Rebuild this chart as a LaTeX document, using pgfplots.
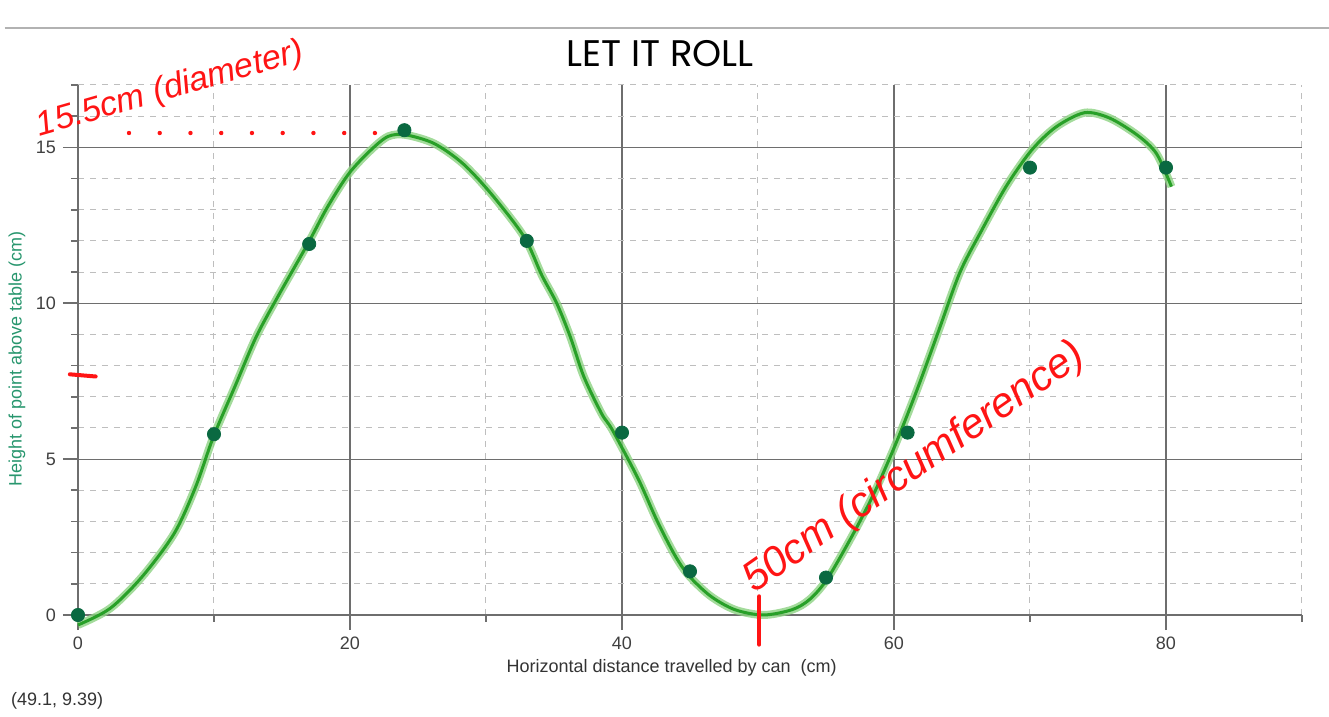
\documentclass[border=0pt]{standalone}
\usepackage{pgfplots}
\pgfplotsset{compat=1.18}
\usepackage{fontspec}
\setmainfont{Liberation Sans}
\newfontfamily\titlefont{Poppins}
\definecolor{axisgray}{RGB}{110,110,110}
\definecolor{gridgray}{RGB}{190,190,190}
\definecolor{dotgreen}{RGB}{10,105,65}
\definecolor{labgreen}{RGB}{40,150,110}
\definecolor{penred}{RGB}{255,20,20}
\definecolor{pengreen}{RGB}{40,160,40}
\definecolor{halogreen}{RGB}{140,210,130}

% hand-drawn curve
\pgfplotstableread{
x y
0 -0.32
2.36 0.21
4.72 1.23
7.08 2.62
8.65 4.11
9.96 5.72
11.53 7.32
13.1 8.92
14.68 10.2
16.9 11.91
18.35 13.09
19.92 14.16
21.5 14.9
22.8 15.35
24.1 15.4
26.2 15.12
28.3 14.48
30.4 13.5
32.8 12.13
34.1 10.9
35.2 10.0
36.2 8.92
37.2 7.64
38.5 6.46
39.3 5.93
41.2 4.36
42.56 3.04
43.87 1.93
44.9 1.27
46.5 0.61
48.3 0.17
50.4 0.0
52.5 0.17
53.8 0.5
55.1 1.16
57.0 2.6
58.55 3.92
60.1 5.46
61.7 7.23
63.27 9.1
64.84 10.98
66.4 12.3
68.25 13.75
70.1 14.9
71.9 15.65
74.0 16.11
75.85 15.94
77.9 15.39
79.3 14.8
80.4 13.74
}\pencurve

\begin{document}
\begin{tikzpicture}
\useasboundingbox (-39pt,-51pt) rectangle (625.5pt,307.5pt);
\begin{axis}[
    at={(0,0)}, anchor=south west,
    width=612pt, height=265pt, scale only axis,
    xmin=0, xmax=90, ymin=0, ymax=17,
    axis lines*=left,
    axis line style={axisgray, line width=1pt},
    xtick={0,20,40,60,80},
    minor xtick={10,30,50,70,90},
    ytick={0,5,10,15},
    minor ytick={1,2,3,4,6,7,8,9,11,12,13,14,16,17},
    grid=both,
    major grid style={axisgray, line width=0.6pt},
    minor grid style={gridgray, dashed, line width=0.5pt},
    tick align=outside,
    major tick length=7.5pt,
    minor tick length=3.5pt,
    tick style={axisgray, line width=0.8pt},
    tick label style={font=\fontsize{9}{10}\selectfont, text=black!75},
    /pgf/number format/assume math mode=true,
    clip=false,
]
\addplot[halogreen, line width=4pt, smooth, opacity=0.8] table {\pencurve};
\addplot[pengreen, line width=1.5pt, smooth] table {\pencurve};
% measured points
\addplot[only marks, mark=*, mark size=3.3pt, mark options={draw=dotgreen, fill=dotgreen}] coordinates {
(0,0) (10,5.8) (17,11.9) (24,15.55) (33,12) (40,5.85) (45,1.4) (55,1.2) (61,5.85) (70,14.35) (80,14.35)};
% red pen marks
\addplot[penred, line width=2.2pt, line cap=round, dash pattern=on 0pt off 15.37pt] coordinates {(3.75,15.46) (21.9,15.46)};
\addplot[penred, line width=2pt, line cap=round] coordinates {(50.1,0.6) (50.1,-0.95)};
\addplot[penred, line width=2pt, line cap=round] coordinates {(-0.6,7.72) (1.3,7.65)};
\node[penred, anchor=base west, rotate=16, font=\itshape\fontsize{17}{17}\selectfont] at (axis cs:-3.3,15.3) {15.5cm (diameter)};
\node[penred, anchor=base west, rotate=35, font=\itshape\fontsize{21}{21}\selectfont] at (axis cs:49.3,0.55) {50cm (circumference)};
% titles and labels
\node[anchor=base, font=\titlefont\fontsize{18.5}{18.5}\selectfont] at (rel axis cs:0.4755,1.034) {LET IT ROLL};
\node[anchor=base, font=\fontsize{9}{10}\selectfont, text=black!80] at (rel axis cs:0.485,-0.109) {Horizontal distance travelled by can\ \ (cm)};
\node[rotate=90, anchor=center, font=\fontsize{9}{10}\selectfont, text=labgreen] at (rel axis cs:-0.0498,0.483) {Height of point above table (cm)};
\node[anchor=base west, font=\fontsize{9}{10}\selectfont, text=black!80] at (rel axis cs:-0.0605,-0.17) {(49.1, 9.39)};
\draw[gray!60, line width=0.8pt] (rel axis cs:-0.06,1.1075) -- (rel axis cs:1.022,1.1075);
\end{axis}
\end{tikzpicture}
\end{document}
